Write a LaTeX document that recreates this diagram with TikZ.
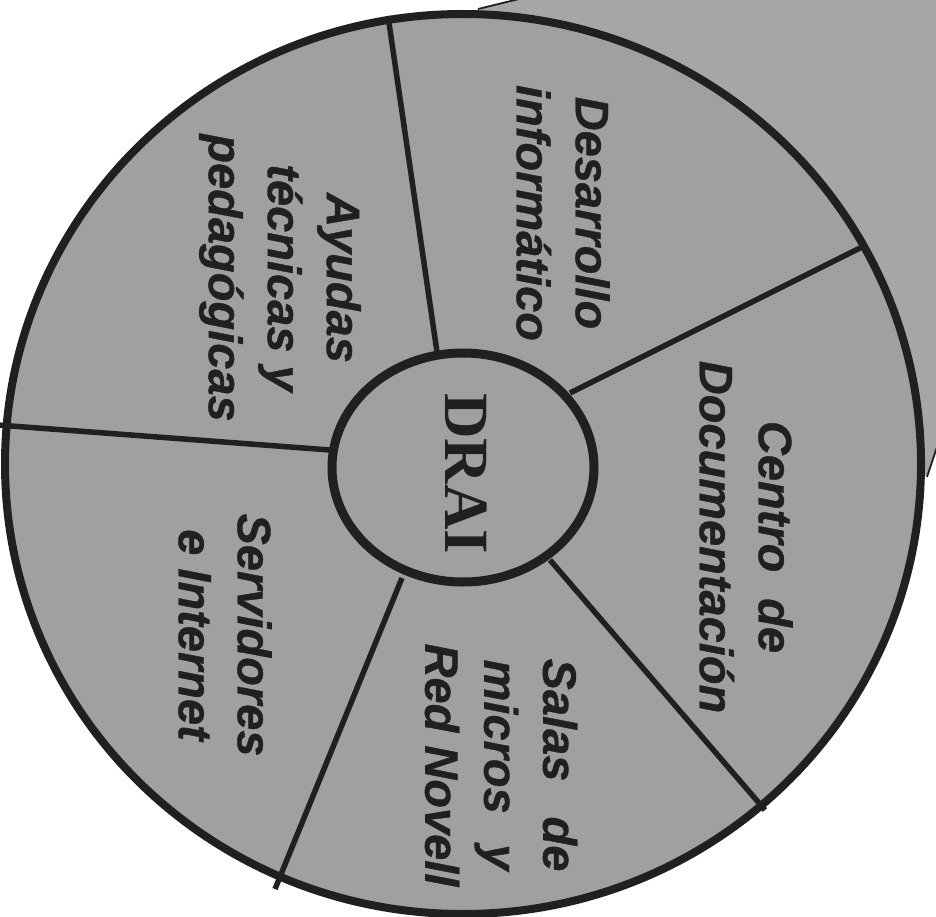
\documentclass[tikz,border=0pt]{standalone}
\usepackage{fontspec}
\setmainfont{Liberation Sans}
\newfontfamily\labelfont{Liberation Sans}[BoldItalicFeatures={FakeBold=0.8}]
\newfontfamily\draifont{Liberation Serif}
\usetikzlibrary{shapes.geometric}
\definecolor{wheelgray}{RGB}{160,160,160}
\definecolor{pagegray}{RGB}{166,166,166}
\definecolor{ink}{RGB}{32,32,32}
\tikzset{
  sectorlabel/.style={rotate=-90, align=center, text=ink, inner sep=0pt,
    font=\labelfont\fontsize{47}{59}\selectfont\bfseries\itshape},
  spoke/.style={draw=ink, line width=5.5pt},
  rim/.style={draw=ink, line width=8pt},
  pageedge/.style={draw=ink, line width=1.8pt},
}
\begin{document}
\begin{tikzpicture}[x=1pt,y=-1pt]
\useasboundingbox (0,0) rectangle (936,917);
\clip (0,0) rectangle (936,917);
% background page behind the wheel
\coordinate (p1) at (478,9);
\coordinate (p2) at (597,-20);
\coordinate (p3) at (960,-20);
\coordinate (p4) at (960,378);
\coordinate (p5) at (927,477);
\fill[pagegray] (p1) -- (p2) -- (p3) -- (p4) -- (p5) -- cycle;
\draw[pageedge] (p1) -- (p2);
\draw[pageedge] (p5) -- (p4);
% wheel
\fill[wheelgray] (463,464) ellipse [x radius=458, y radius=450];
% spokes
\coordinate (a1) at (437,352); \coordinate (b1) at (388,16);
\coordinate (a2) at (570,393); \coordinate (b2) at (864,246);
\coordinate (a3) at (550,560); \coordinate (b3) at (765,810);
\coordinate (a4) at (402,578); \coordinate (b4) at (275,889);
\coordinate (a5) at (330,450); \coordinate (b5) at (-2,425);
\draw[spoke] (a1) -- (b1);
\draw[spoke] (a2) -- (b2);
\draw[spoke] (a3) -- (b3);
\draw[spoke] (a4) -- (b4);
\draw[spoke] (a5) -- (b5);
\draw[rim] (463,464) ellipse [x radius=458, y radius=450];
% centre
\node[ellipse, draw=ink, line width=9pt, fill=wheelgray, minimum width=262pt, minimum height=229pt, inner sep=0pt] (drai) at (463,467.5) {};
\node[rotate=-90, text=ink, font=\draifont\fontsize{63}{63}\selectfont\bfseries] (draitext) at (466,474) {DRAI};
% sector labels
\node[sectorlabel] (desarrollo) at (563,213) {Desarrollo\\informático};
\node[sectorlabel] (centro) at (746,537) {Centro\hspace{0.55em}de\\Documentación};
\node[sectorlabel] (salas) at (501,765) {Salas\hspace{0.75em}de\\micros\hspace{0.65em}y\\Red Novell};
\node[sectorlabel] (servidores) at (225,635) {Servidores\\e Internet};
\node[sectorlabel] (ayudas) at (280,278) {Ayudas\\técnicas y\\pedagógicas};
\end{tikzpicture}
\end{document}
